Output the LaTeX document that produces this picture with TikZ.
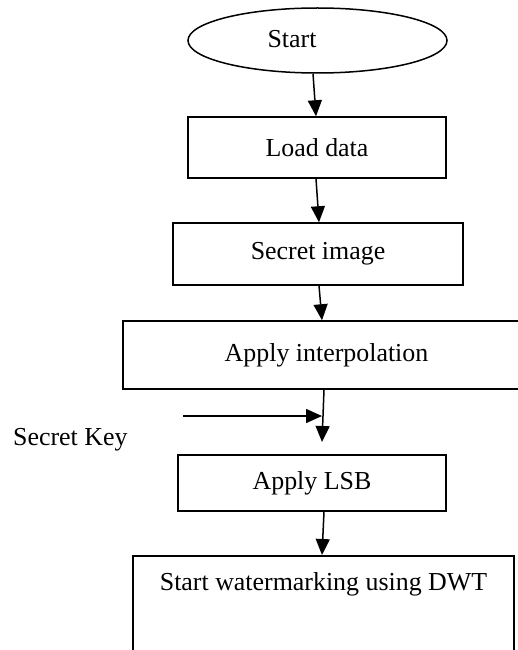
\documentclass[tikz,border=0pt]{standalone}
\usepackage{fontspec}
\setmainfont{Liberation Serif}
\usetikzlibrary{shapes.geometric,arrows.meta}

\tikzset{
  box/.style={draw, line width=1.5bp, rectangle, inner sep=0pt},
  oval/.style={draw, line width=1.5bp, ellipse, inner sep=0pt},
  lbl/.style={inner sep=0pt, font=\fontsize{26}{31}\selectfont},
  arr/.style={line width=1.5bp, -{Triangle[length=16bp,width=14bp]}}
}

\begin{document}
\begin{tikzpicture}[x=1bp, y=-1bp, font=\fontsize{26}{31}\selectfont]
  \useasboundingbox (0,0) rectangle (518,650);
  \begin{scope}
    \clip (0,0) rectangle (518,650);

    % terminal
    \node[oval, minimum width=259bp, minimum height=65bp] (start) at (317.5,40.5) {};
    \node[lbl, anchor=base] (starttxt) at (292,48) {Start};

    % process steps
    \node[box, minimum width=258bp, minimum height=61bp] (load) at (317,147.5) {Load data};
    \node[box, minimum width=290bp, minimum height=62bp] (secret) at (318,254) {Secret image};
    \node[box, minimum width=407bp, minimum height=68bp] (interp) at (326.5,355) {Apply interpolation};
    \node[box, minimum width=268bp, minimum height=56bp] (lsb) at (312,483) {Apply LSB};
    \node[box, minimum width=381bp, minimum height=115bp, anchor=north] (dwt) at (323.5,555) {};
    \node[lbl, anchor=base] (dwttxt) at (323.5,590) {Start watermarking using DWT};

    % side input
    \node[lbl, anchor=base west] (key) at (13,445) {Secret Key};
    \coordinate (keyfrom) at (183,416);
    \coordinate (lsbin) at (322,442);

    % flow
    \draw[arr] ([xshift=-4.5bp]start.south) -- ([xshift=-1bp]load.north);
    \draw[arr] ([xshift=-1bp]load.south) -- ([xshift=1bp]secret.north);
    \draw[arr] ([xshift=1bp]secret.south) -- ([xshift=-4.5bp]interp.north);
    \draw[arr] ([xshift=-2.5bp]interp.south) -- (lsbin);
    \draw[arr] (keyfrom) -- (keyfrom -| lsbin);
    \draw[arr] ([xshift=12bp]lsb.south) -- ([xshift=-1.5bp]dwt.north);
  \end{scope}
\end{tikzpicture}
\end{document}
